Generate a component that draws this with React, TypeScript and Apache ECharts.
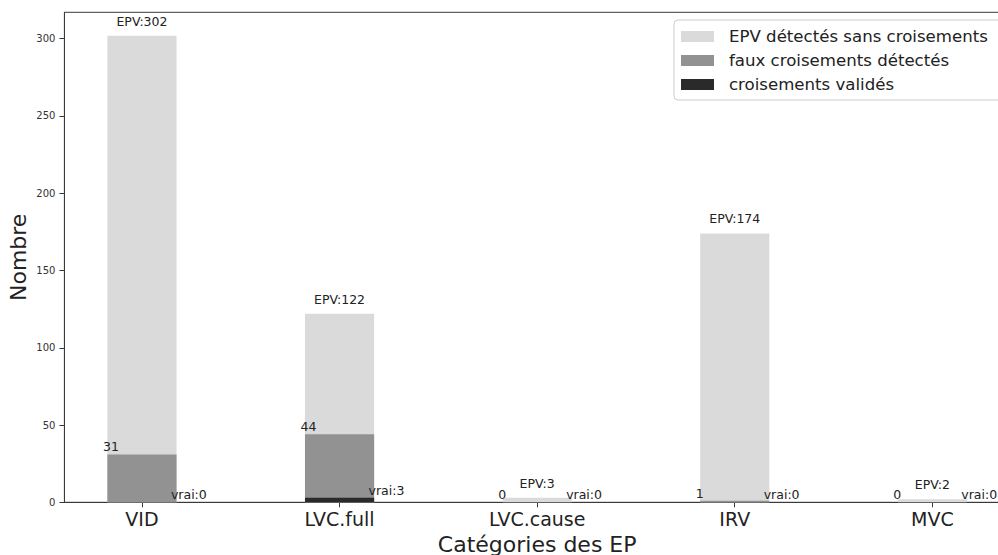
import React, { useEffect, useRef } from "react";
import * as echarts from "echarts";

const categories = ["VID", "LVC.full", "LVC.cause", "IRV", "MVC"];
const epvTotals = [302, 122, 3, 174, 2];
const falseCrossings = [31, 44, 0, 1, 0];
const validatedCrossings = [0, 3, 0, 0, 0];
const yTicks = [0, 50, 100, 150, 200, 250, 300];
const xTicks = [0, 1, 2, 3, 4];
const seriesNames = [
  "EPV détectés sans croisements",
  "faux croisements détectés",
  "croisements validés",
];

const W = 1012;
const H = 555;
const GRID_LEFT = 64.4;
const GRID_TOP = 12.3;
const GRID_BOTTOM = 52.7;
const GRID_RIGHT = W - 1009.9;
const X_MIN = -0.3925;
const X_MAX = 4.3925;
const Y_MAX = 302 * 1.05;
const PX_PER_UNIT = (W - GRID_LEFT - GRID_RIGHT) / (X_MAX - X_MIN);
const BAR_W = 0.35 * PX_PER_UNIT;
const FONT = "DejaVu Sans";

export default function App() {
  const ref = useRef<HTMLDivElement>(null);
  useEffect(() => {
    if (!ref.current) return;
    const chart = echarts.init(ref.current, undefined, { renderer: "svg" });
    const toPairs = (arr: number[]) => arr.map((v, i) => [i, v]);
    const smallLabel = {
      fontFamily: FONT,
      fontSize: 12.5,
      color: "#222",
    };
    chart.setOption({
      animation: false,
      backgroundColor: "#fff",
      textStyle: { fontFamily: FONT },
      grid: {
        left: GRID_LEFT,
        top: GRID_TOP,
        bottom: GRID_BOTTOM,
        right: GRID_RIGHT,
        containLabel: false,
        outerBoundsMode: "none",
        show: true,
        borderColor: "#3a3a3a",
        borderWidth: 1,
        backgroundColor: "transparent",
      },
      legend: {
        orient: "vertical",
        left: 674,
        top: 20,
        padding: [8, 14, 7, 7],
        itemWidth: 33,
        itemHeight: 11,
        itemGap: 7,
        icon: "rect",
        borderColor: "#cccccc",
        borderWidth: 1,
        borderRadius: 4,
        backgroundColor: "rgba(255,255,255,0.8)",
        data: seriesNames,
        textStyle: {
          fontFamily: FONT,
          fontSize: 16.6,
          color: "#222",
          padding: [0, 0, 0, 10],
        },
      },
      xAxis: {
        type: "value",
        min: X_MIN,
        max: X_MAX,
        name: "Catégories des EP",
        nameLocation: "middle",
        nameGap: 31,
        nameMoveOverlap: false,
        nameTextStyle: { fontFamily: FONT, fontSize: 22, color: "#222" },
        splitLine: { show: false },
        axisLine: {
          show: true,
          onZero: false,
          lineStyle: { color: "#3a3a3a", width: 1 },
        },
        axisTick: {
          show: true,
          length: 5,
          customValues: xTicks,
          lineStyle: { color: "#3a3a3a" },
        },
        axisLabel: {
          customValues: xTicks,
          margin: 7,
          fontFamily: FONT,
          fontSize: 19,
          color: "#222",
          formatter: (v: number) => categories[Math.round(v)] ?? "",
        },
      },
      yAxis: {
        type: "value",
        min: 0,
        max: Y_MAX,
        name: "Nombre",
        nameLocation: "middle",
        nameGap: 35,
        nameMoveOverlap: false,
        nameRotate: 90,
        nameTextStyle: { fontFamily: FONT, fontSize: 22, color: "#222" },
        splitLine: { show: false },
        axisLine: {
          show: true,
          onZero: false,
          lineStyle: { color: "#3a3a3a", width: 1 },
        },
        axisTick: {
          show: true,
          length: 5,
          customValues: yTicks,
          lineStyle: { color: "#3a3a3a" },
        },
        axisLabel: {
          customValues: yTicks,
          margin: 9,
          fontFamily: FONT,
          fontSize: 10,
          color: "#333",
        },
      },
      series: [
        {
          name: seriesNames[0],
          type: "bar",
          barWidth: BAR_W,
          barGap: "-100%",
          data: toPairs(epvTotals),
          itemStyle: { color: "#dadada" },
          label: {
            show: true,
            position: "top",
            distance: 8,
            ...smallLabel,
            formatter: (p: any) => "EPV:" + p.value[1],
          },
        },
        {
          name: seriesNames[1],
          type: "bar",
          barWidth: BAR_W,
          barGap: "-100%",
          data: toPairs(falseCrossings),
          itemStyle: { color: "#929292" },
          label: {
            show: true,
            position: [-4.4, -1],
            align: "left",
            verticalAlign: "bottom",
            ...smallLabel,
            formatter: (p: any) => String(p.value[1]),
          },
        },
        {
          name: seriesNames[2],
          type: "bar",
          barWidth: BAR_W,
          barGap: "-100%",
          data: toPairs(validatedCrossings),
          itemStyle: { color: "#2a2a2a" },
          label: {
            show: true,
            position: [BAR_W - 5.6, -1],
            align: "left",
            verticalAlign: "bottom",
            ...smallLabel,
            formatter: (p: any) => "vrai:" + p.value[1],
          },
        },
      ],
    });
    return () => chart.dispose();
  }, []);
  return (
    <div
      style={{
        position: "fixed",
        left: 0,
        top: 0,
        width: 998,
        height: H,
        overflow: "hidden",
        background: "#fff",
      }}
    >
      <div ref={ref} style={{ width: W, height: H }} />
    </div>
  );
}
